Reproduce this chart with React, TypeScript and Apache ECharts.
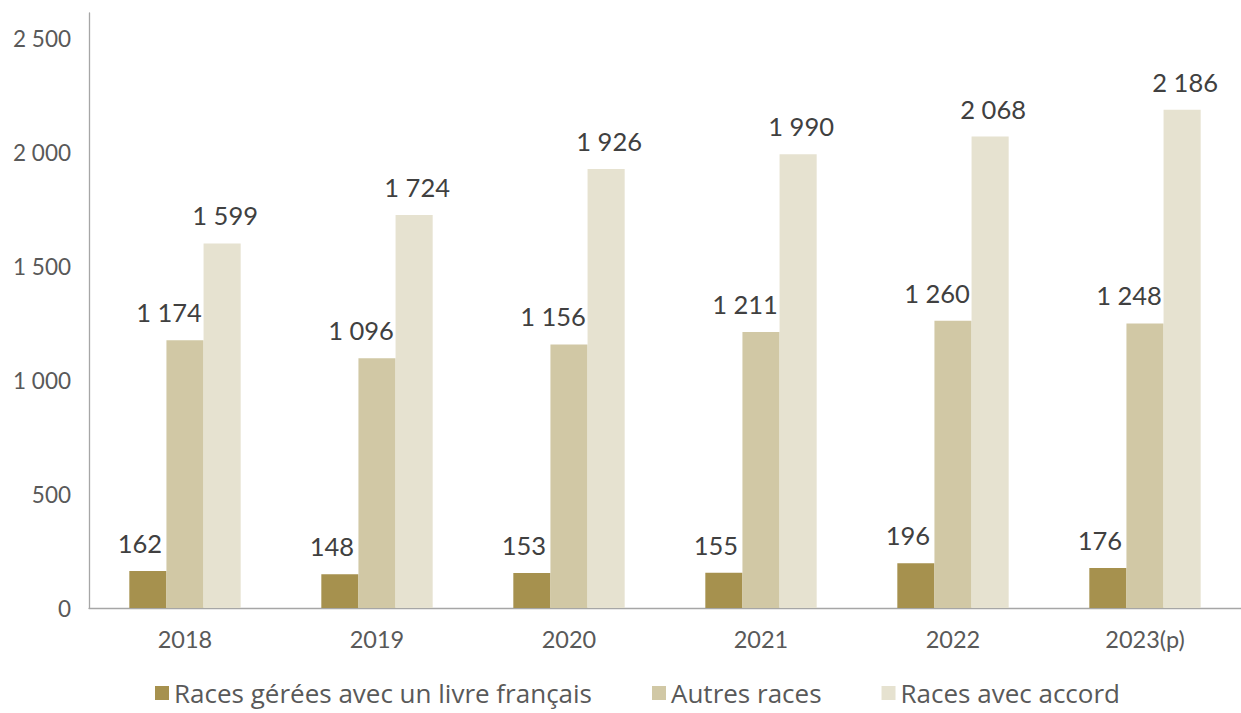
import React, { useEffect, useRef } from "react";
import * as echarts from "echarts";

const categories = ["2018", "2019", "2020", "2021", "2022", "2023(p)"];
const livreFrancais = [162, 148, 153, 155, 196, 176];
const autresRaces = [1174, 1096, 1156, 1211, 1260, 1248];
const avecAccord = [1599, 1724, 1926, 1990, 2068, 2186];
const seriesNames = ["Races gérées avec un livre français", "Autres races", "Races avec accord"];
const colors = ["#A6914E", "#D1C8A5", "#E6E2D0"];

const fmt = (v: number) => {
  const s = String(Math.round(v));
  return s.replace(/\B(?=(\d{3})+(?!\d))/g, " ");
};

const FONT = "Lato";

export default function App() {
  const ref = useRef<HTMLDivElement>(null);
  useEffect(() => {
    if (!ref.current) return;
    const chart = echarts.init(ref.current, undefined, { renderer: "svg" });
    const data = [livreFrancais, autresRaces, avecAccord];
    const offsets = [[-8, 0], [-16, 0], [3, 0]];
    chart.setOption({
      animation: false,
      textStyle: { fontFamily: FONT },
      grid: { left: 89, right: 0, top: 13, bottom: 105, containLabel: false },
      legend: {
        bottom: 2,
        left: 150,
        itemWidth: 14,
        itemHeight: 14,
        itemGap: 60,
        icon: "rect",
        textStyle: { fontSize: 26, color: "#595959", fontFamily: "Open Sans" },
        data: seriesNames,
      },
      xAxis: {
        type: "category",
        data: categories,
        axisLine: { lineStyle: { color: "#A6A6A6", width: 1.3 } },
        axisTick: { show: false },
        axisLabel: { fontSize: 23.5, color: "#595959", margin: 19, fontFamily: FONT },
      },
      yAxis: {
        type: "value",
        min: 0,
        max: 2610,
        interval: 500,
        splitLine: { show: false },
        axisLine: { show: true, lineStyle: { color: "#A6A6A6", width: 1.3 } },
        axisTick: { show: false },
        axisLabel: {
          fontSize: 22.5,
          color: "#595959",
          margin: 18,
          showMaxLabel: false,
          fontFamily: FONT,
          formatter: (v: number) => fmt(v),
        },
      },
      series: seriesNames.map((name, i) => ({
        name,
        type: "bar",
        data: data[i],
        barGap: "0%",
        barCategoryGap: "42%",
        itemStyle: { color: colors[i] },
        label: {
          show: true,
          position: "top",
          distance: 15,
          offset: offsets[i],
          fontSize: 25.5,
          color: "#404040",
          fontFamily: FONT,
          formatter: (p: any) => fmt(p.value),
        },
      })),
    });
    return () => chart.dispose();
  }, []);
  return (
    <div
      ref={ref}
      style={{ position: "fixed", left: 0, top: 0, width: 1241, height: 713, background: "#fff" }}
    />
  );
}
